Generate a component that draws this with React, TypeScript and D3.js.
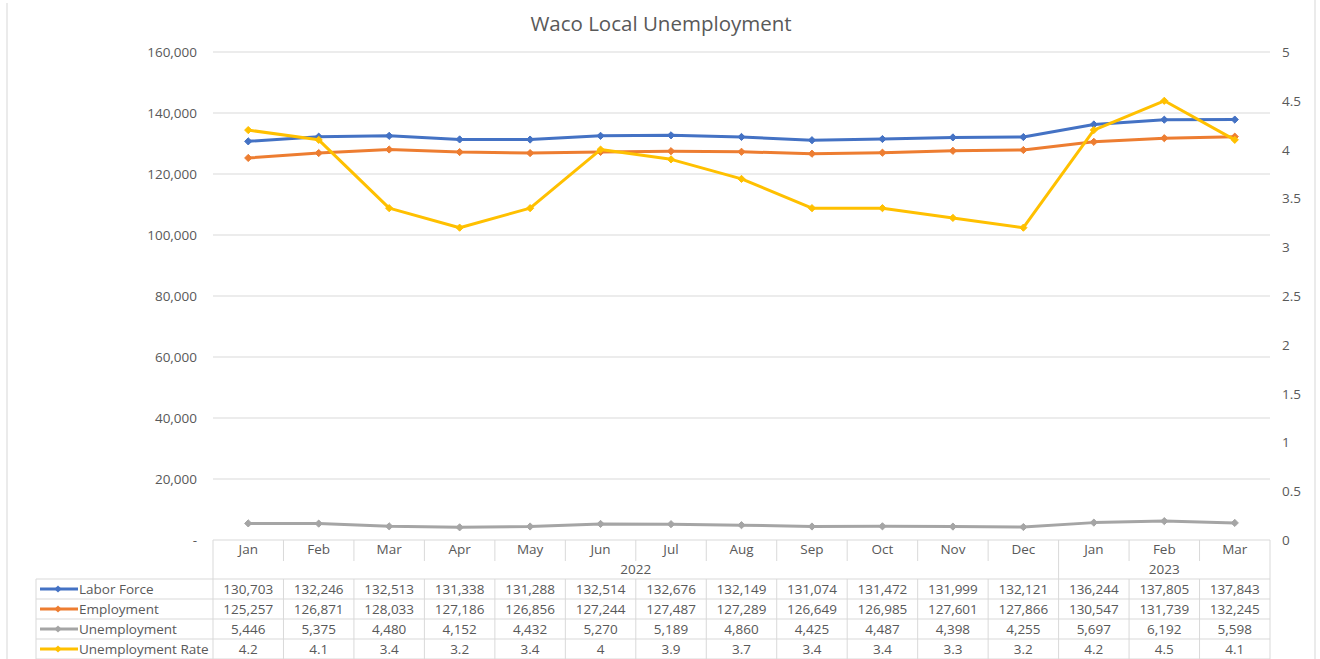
import React from "react";
import * as d3 from "d3";

const months = ["Jan","Feb","Mar","Apr","May","Jun","Jul","Aug","Sep","Oct","Nov","Dec","Jan","Feb","Mar"];
const years = [{ label: "2022", from: 0, to: 11 }, { label: "2023", from: 12, to: 14 }];
const laborForce = [130703,132246,132513,131338,131288,132514,132676,132149,131074,131472,131999,132121,136244,137805,137843];
const employment = [125257,126871,128033,127186,126856,127244,127487,127289,126649,126985,127601,127866,130547,131739,132245];
const unemployment = [5446,5375,4480,4152,4432,5270,5189,4860,4425,4487,4398,4255,5697,6192,5598];
const unemploymentRate = [4.2,4.1,3.4,3.2,3.4,4,3.9,3.7,3.4,3.4,3.3,3.2,4.2,4.5,4.1];
const leftTicks = [0,20000,40000,60000,80000,100000,120000,140000,160000];
const rightTicks = [0,0.5,1,1.5,2,2.5,3,3.5,4,4.5,5];

const W = 1320, H = 659;
const X0 = 213, X1 = 1270, YTOP = 52, YBOT = 540;
const FONT = "'Open Sans', 'Liberation Sans', sans-serif";
const TXT = "#595959";
const GRID = "#D9D9D9";
const FS = 13.5;

export default function App() {
  const x = d3.scaleBand<number>().domain(d3.range(months.length)).range([X0, X1]).paddingInner(0).paddingOuter(0);
  const cx = (i: number) => (x(i) as number) + x.bandwidth() / 2;
  const yL = d3.scaleLinear().domain([0, 160000]).range([YBOT, YTOP]);
  const yR = d3.scaleLinear().domain([0, 5]).range([YBOT, YTOP]);
  const fmt = d3.format(",");

  const series = [
    { name: "Labor Force", color: "#4472C4", values: laborForce, y: yL, fmt: (v: number) => fmt(v) },
    { name: "Employment", color: "#ED7D31", values: employment, y: yL, fmt: (v: number) => fmt(v) },
    { name: "Unemployment", color: "#A5A5A5", values: unemployment, y: yL, fmt: (v: number) => fmt(v) },
    { name: "Unemployment Rate", color: "#FFC000", values: unemploymentRate, y: yR, fmt: (v: number) => String(v) },
  ];

  const rowTop = 579, rowH = 20;
  const legendX = 36;
  const diamond = (px: number, py: number, r = 3.6) =>
    `M${px},${py - r}L${px + r},${py}L${px},${py + r}L${px - r},${py}Z`;

  return (
    <svg width={W} height={H} style={{ position: "absolute", left: 0, top: 0, background: "#fff" }} fontFamily={FONT}>
      <rect x={0} y={0} width={W} height={H} fill="#fff" />
      {/* sheet edge artifacts */}
      <line x1={7} y1={3} x2={7} y2={H} stroke="#E4E4E4" strokeWidth={1.5} />
      <line x1={1315} y1={0} x2={1315} y2={H} stroke="#E4E4E4" strokeWidth={1.5} />

      <text x={661} y={31} textAnchor="middle" fontSize={20.5} fill={TXT}>Waco Local Unemployment</text>

      {/* gridlines */}
      {leftTicks.filter(t => t > 0).map(t => (
        <line key={t} x1={X0} x2={X1} y1={yL(t)} y2={yL(t)} stroke={GRID} strokeWidth={1} />
      ))}
      {/* left axis labels */}
      {leftTicks.map(t => (
        <text key={t} x={197} y={yL(t) + 5} textAnchor="end" fontSize={FS} fill={TXT}>{t === 0 ? "-" : fmt(t)}</text>
      ))}
      {/* right axis labels */}
      {rightTicks.map(t => (
        <text key={t} x={1282} y={yR(t) + 5} textAnchor="start" fontSize={FS} fill={TXT}>{String(t)}</text>
      ))}

      {/* lines */}
      {series.map(s => {
        const line = d3.line<number>().x((_, i) => cx(i)).y(v => s.y(v));
        return (
          <g key={s.name}>
            <path d={line(s.values) as string} fill="none" stroke={s.color} strokeWidth={3} strokeLinejoin="round" strokeLinecap="round" />
            {s.values.map((v, i) => (
              <path key={i} d={diamond(cx(i), s.y(v))} fill={s.color} stroke={s.color} strokeWidth={1} />
            ))}
          </g>
        );
      })}

      {/* data table */}
      <g stroke={GRID} strokeWidth={1} fill="none">
        <line x1={X0} x2={X1} y1={YBOT} y2={YBOT} />
        <line x1={legendX} x2={X1} y1={rowTop} y2={rowTop} />
        {series.map((_, r) => (
          <line key={r} x1={legendX} x2={X1} y1={rowTop + rowH * (r + 1)} y2={rowTop + rowH * (r + 1)} />
        ))}
        <line x1={legendX} x2={legendX} y1={rowTop} y2={H} />
        {d3.range(months.length + 1).map(i => {
          const xx = i === months.length ? X1 : (x(i) as number);
          const full = i === 0 || i === months.length || i === 12;
          return (
            <g key={i}>
              <line x1={xx} x2={xx} y1={full ? YBOT : rowTop} y2={H} />
              {!full && <line x1={xx} x2={xx} y1={YBOT} y2={561} />}
            </g>
          );
        })}
      </g>
      {months.map((m, i) => (
        <text key={i} x={cx(i)} y={554} textAnchor="middle" fontSize={FS} fill={TXT}>{m}</text>
      ))}
      {years.map(yr => {
        const a = x(yr.from) as number;
        const b = (x(yr.to) as number) + x.bandwidth();
        return <text key={yr.label} x={(a + b) / 2} y={574} textAnchor="middle" fontSize={FS} fill={TXT}>{yr.label}</text>;
      })}
      {series.map((s, r) => {
        const yy = rowTop + rowH * r + rowH / 2;
        return (
          <g key={s.name}>
            <line x1={40} x2={78} y1={yy} y2={yy} stroke={s.color} strokeWidth={3} />
            <path d={diamond(58, yy)} fill={s.color} />
            <text x={79} y={yy + 5} fontSize={FS} fill={TXT}>{s.name}</text>
            {s.values.map((v, i) => (
              <text key={i} x={cx(i)} y={yy + 5} textAnchor="middle" fontSize={FS} fill={TXT}>{s.fmt(v)}</text>
            ))}
          </g>
        );
      })}
    </svg>
  );
}
